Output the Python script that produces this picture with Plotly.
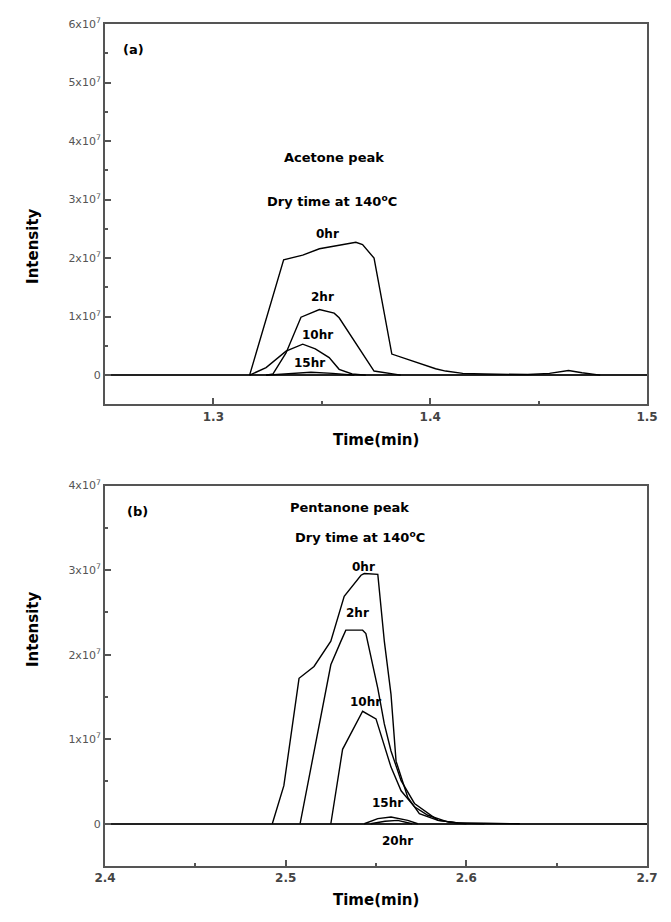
import plotly.graph_objects as go

SCALE = 1e7  # intensity values below are in units of 1e7

# ---------- Panel (a): Acetone peak ----------
a_0hr_x = [1.3167, 1.3324, 1.3412, 1.3489, 1.3580, 1.3657, 1.3688, 1.3741, 1.3823, 1.3918, 1.4025,
           1.4071, 1.415, 1.425, 1.435, 1.445, 1.455, 1.4638, 1.470, 1.4784]
a_0hr_y = [0, 1.97, 2.05, 2.16, 2.22, 2.27, 2.23, 2.00, 0.36, 0.24, 0.11,
           0.07, 0.03, 0.02, 0.01, 0.01, 0.03, 0.08, 0.04, 0.0]
a_2hr_x = [1.3243, 1.3275, 1.3335, 1.3404, 1.3489, 1.3557, 1.3580, 1.3741, 1.3864]
a_2hr_y = [0, 0.02, 0.38, 0.99, 1.12, 1.06, 0.98, 0.07, 0.0]
a_10hr_x = [1.3167, 1.3243, 1.3335, 1.3412, 1.3470, 1.3534, 1.3580, 1.3640, 1.3703]
a_10hr_y = [0, 0.13, 0.41, 0.53, 0.45, 0.30, 0.10, 0.02, 0.0]
a_15hr_x = [1.3243, 1.3350, 1.3450, 1.3550, 1.3650]
a_15hr_y = [0, 0.03, 0.05, 0.03, 0.0]

a_labels = ["0hr", "2hr", "10hr", "15hr"]
a_label_x = [1.3527, 1.3504, 1.3481, 1.3443]
a_label_y = [2.42, 1.33, 0.68, 0.20]

# ---------- Panel (b): Pentanone peak ----------
b_0hr_x = [2.4926, 2.4990, 2.5074, 2.5157, 2.5250, 2.5324, 2.5417, 2.5435, 2.5510, 2.5546, 2.5583,
           2.5611, 2.5676, 2.5740, 2.5843, 2.5954, 2.6100, 2.6296]
b_0hr_y = [0, 0.45, 1.72, 1.86, 2.16, 2.69, 2.94, 2.96, 2.95, 2.16, 1.53,
           0.74, 0.31, 0.12, 0.04, 0.01, 0.005, 0.0]
b_2hr_x = [2.5080, 2.5230, 2.5250, 2.5306, 2.5333, 2.5426, 2.5444, 2.5510, 2.5546, 2.5583,
           2.5639, 2.5713, 2.5787, 2.5843, 2.5950, 2.6100]
b_2hr_y = [0, 1.69, 1.88, 2.16, 2.29, 2.29, 2.25, 1.60, 1.18, 0.86,
           0.51, 0.24, 0.12, 0.04, 0.01, 0.0]
b_10hr_x = [2.5250, 2.5315, 2.5426, 2.5444, 2.5500, 2.5583, 2.5639, 2.5713, 2.5787, 2.5900, 2.6000]
b_10hr_y = [0, 0.88, 1.33, 1.31, 1.24, 0.67, 0.39, 0.20, 0.10, 0.02, 0.0]
b_15hr_x = [2.5435, 2.5510, 2.5583, 2.5676, 2.5731]
b_15hr_y = [0, 0.06, 0.08, 0.04, 0.0]
b_20hr_x = [2.5470, 2.5550, 2.5620, 2.5700]
b_20hr_y = [0, 0.03, 0.04, 0.0]

b_labels = ["0hr", "2hr", "10hr", "15hr", "20hr"]
b_label_x = [2.5430, 2.5398, 2.5444, 2.5565, 2.5620]
b_label_y = [3.04, 2.49, 1.44, 0.24, -0.20]

# ---------- Axis ticks ----------
a_xticks = [1.3, 1.4, 1.5]
a_yticks = [0, 1, 2, 3, 4, 5, 6]
b_xticks = [2.4, 2.5, 2.6, 2.7]
b_yticks = [0, 1, 2, 3, 4]


def scale(v):
    return [y * SCALE for y in v]


def ylab(v):
    return "0" if v == 0 else f"{v}x10<sup>7</sup>"


fig = go.Figure()
line = dict(color="black", width=1.4)
for xs, ys in [(a_0hr_x, a_0hr_y), (a_2hr_x, a_2hr_y), (a_10hr_x, a_10hr_y), (a_15hr_x, a_15hr_y)]:
    fig.add_trace(go.Scatter(x=xs, y=scale(ys), mode="lines", line=line, xaxis="x", yaxis="y",
                             showlegend=False))
for xs, ys in [(b_0hr_x, b_0hr_y), (b_2hr_x, b_2hr_y), (b_10hr_x, b_10hr_y), (b_15hr_x, b_15hr_y),
               (b_20hr_x, b_20hr_y)]:
    fig.add_trace(go.Scatter(x=xs, y=scale(ys), mode="lines", line=line, xaxis="x2", yaxis="y2",
                             showlegend=False))

axcol = "#555555"
common_x = dict(showline=True, linecolor=axcol, linewidth=2, mirror=True, ticks="inside", ticklen=6,
                tickwidth=1.5, tickcolor=axcol, showgrid=False, zeroline=False,
                tickfont=dict(family="DejaVu Sans", size=12, color="#444"))
common_y = dict(showline=True, linecolor=axcol, linewidth=2, mirror=True, ticks="inside", ticklen=6,
                tickwidth=1.5, tickcolor=axcol, showgrid=False, zeroline=True, zerolinecolor="#222",
                zerolinewidth=1.6,
                tickfont=dict(family="DejaVu Sans", size=11, color="#555"))

fig.update_layout(
    width=663, height=914,
    margin=dict(l=97, r=24, t=8, b=56),
    paper_bgcolor="white", plot_bgcolor="white",
    xaxis=dict(domain=[0, 1], anchor="y", range=[1.25, 1.5], tickmode="array", tickvals=a_xticks,
               ticktext=[f"<b>{v}</b>" for v in a_xticks],
               minor=dict(ticks="inside", ticklen=3, tickcolor=axcol, tickvals=[1.35, 1.45]),
               **common_x),
    yaxis=dict(domain=[0.5482, 1], anchor="x", range=[-0.5 * SCALE, 6 * SCALE], tickmode="array",
               tickvals=scale(a_yticks), ticktext=[ylab(v) for v in a_yticks],
               minor=dict(ticks="inside", ticklen=3, tickcolor=axcol,
                          tickvals=scale([0.5, 1.5, 2.5, 3.5, 4.5, 5.5])),
               **common_y),
    xaxis2=dict(domain=[0, 1], anchor="y2", range=[2.4, 2.7], tickmode="array", tickvals=b_xticks,
                ticktext=[f"<b>{v}</b>" for v in b_xticks],
                minor=dict(ticks="inside", ticklen=3, tickcolor=axcol, tickvals=[2.45, 2.55, 2.65]),
                **common_x),
    yaxis2=dict(domain=[0, 0.4518], anchor="x2", range=[-0.5 * SCALE, 4 * SCALE], tickmode="array",
                tickvals=scale(b_yticks), ticktext=[ylab(v) for v in b_yticks],
                minor=dict(ticks="inside", ticklen=3, tickcolor=axcol,
                           tickvals=scale([0.5, 1.5, 2.5, 3.5])),
                **common_y),
)

bold = dict(family="DejaVu Sans", size=13, color="black")
small = dict(family="DejaVu Sans", size=12, color="black")
ann = []
# panel (a) texts
ann.append(dict(x=1.2575, y=5.56 * SCALE, xref="x", yref="y", text="<b>(a)</b>", showarrow=False,
                xanchor="left", font=bold))
ann.append(dict(x=1.3557, y=3.72 * SCALE, xref="x", yref="y", text="<b>Acetone peak</b>",
                showarrow=False, font=bold))
ann.append(dict(x=1.3546, y=2.97 * SCALE, xref="x", yref="y", text="<b>Dry time at 140<sup>o</sup>C</b>",
                showarrow=False, font=bold))
for t, x, y in zip(a_labels, a_label_x, a_label_y):
    ann.append(dict(x=x, y=y * SCALE, xref="x", yref="y", text=f"<b>{t}</b>", showarrow=False,
                    font=small))
# panel (b) texts
ann.append(dict(x=2.411, y=3.69 * SCALE, xref="x2", yref="y2", text="<b>(b)</b>", showarrow=False,
                xanchor="left", font=bold))
ann.append(dict(x=2.5352, y=3.74 * SCALE, xref="x2", yref="y2", text="<b>Pentanone peak</b>",
                showarrow=False, font=bold))
ann.append(dict(x=2.5412, y=3.39 * SCALE, xref="x2", yref="y2",
                text="<b>Dry time at 140<sup>o</sup>C</b>", showarrow=False, font=bold))
for t, x, y in zip(b_labels, b_label_x, b_label_y):
    ann.append(dict(x=x, y=y * SCALE, xref="x2", yref="y2", text=f"<b>{t}</b>", showarrow=False,
                    font=small))
# axis titles
title_font = dict(family="DejaVu Sans", size=15, color="black")
ann.append(dict(x=-0.153, y=0.784, xref="paper", yref="paper", text="<b>Intensity</b>", textangle=-90,
                showarrow=False, font=title_font))
ann.append(dict(x=-0.153, y=0.234, xref="paper", yref="paper", text="<b>Intensity</b>", textangle=-90,
                showarrow=False, font=title_font))
ann.append(dict(x=0.50, y=0.5055, xref="paper", yref="paper", text="<b>Time(min)</b>",
                showarrow=False, font=title_font))
ann.append(dict(x=0.50, y=-0.054, xref="paper", yref="paper", text="<b>Time(min)</b>",
                showarrow=False, font=title_font))
fig.update_layout(annotations=ann)

fig.write_html("out.html")
